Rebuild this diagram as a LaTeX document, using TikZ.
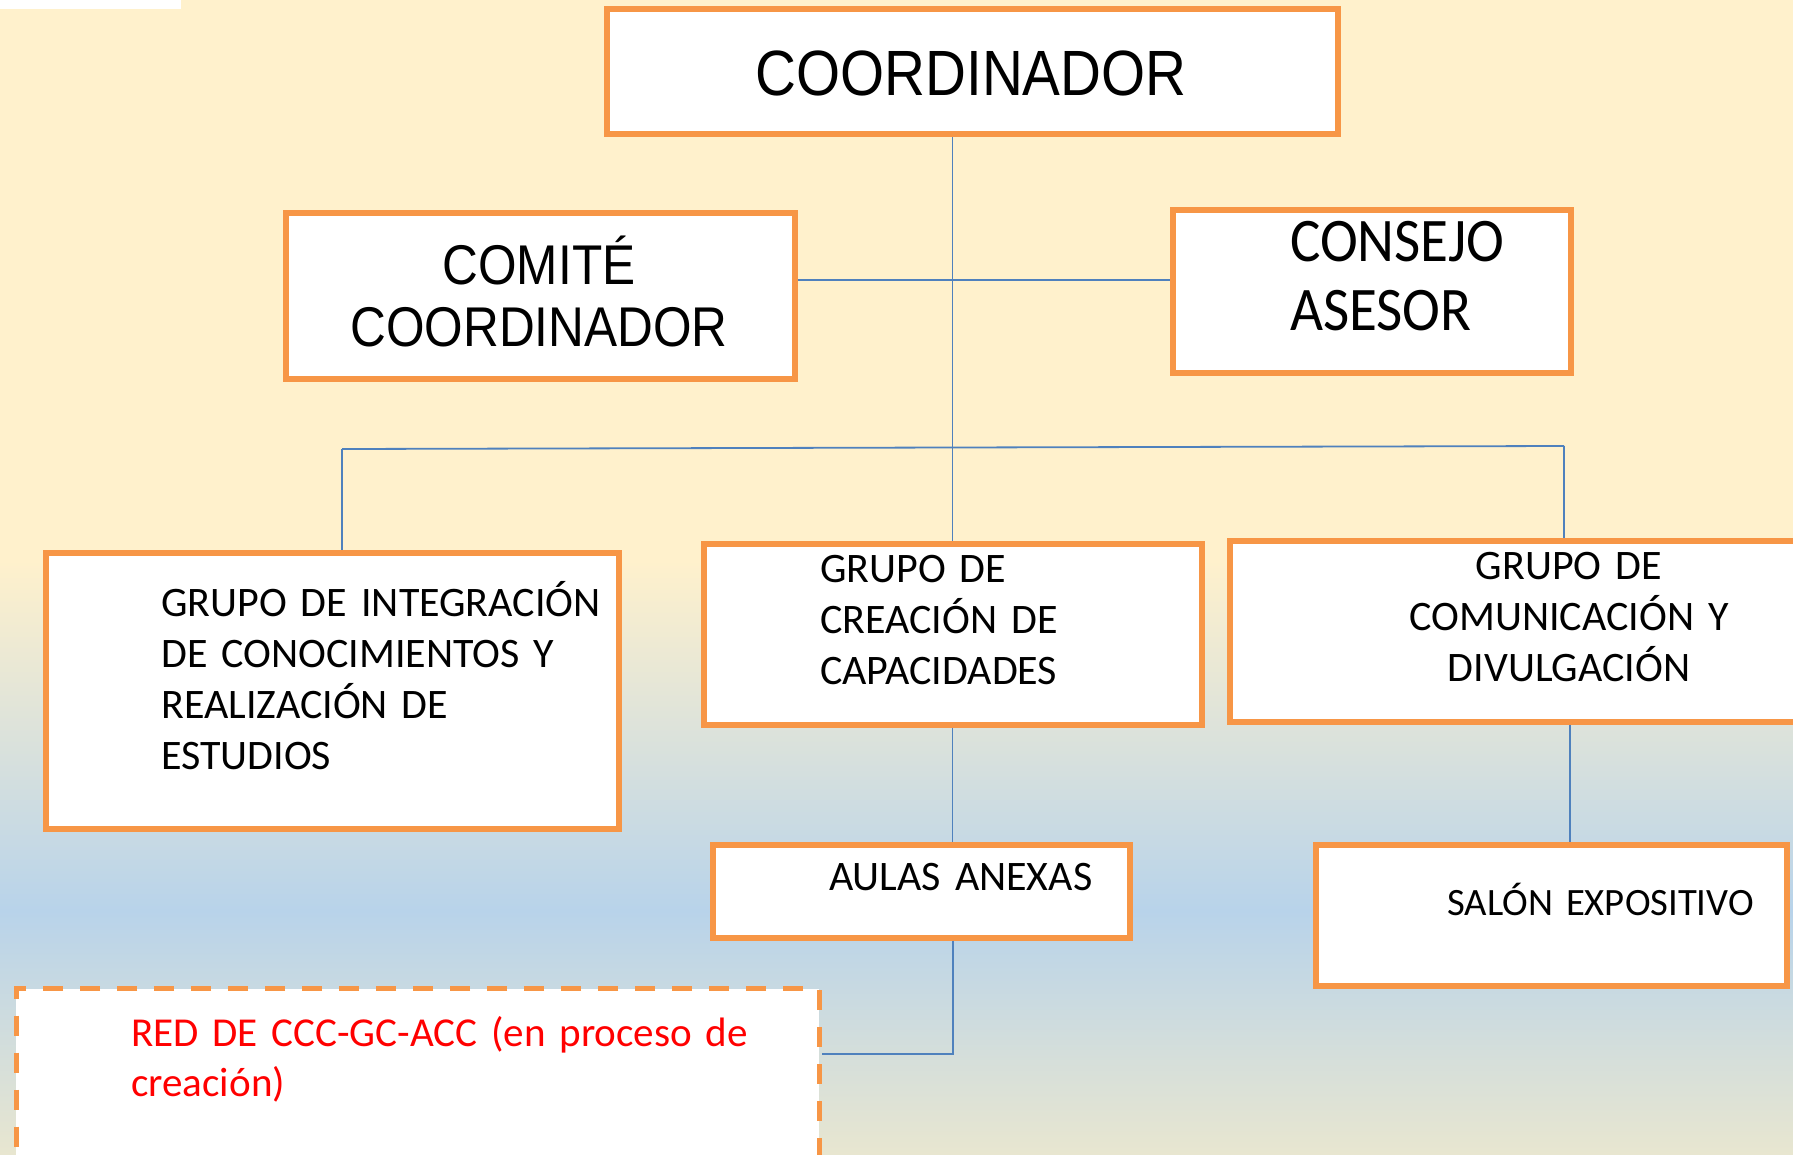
\documentclass[tikz,border=0pt]{standalone}
\usepackage{fontspec}
\setmainfont{Carlito}
\newfontfamily\arialtxt[FakeStretch=0.885]{Liberation Sans}
\newfontfamily\calibtxt[FakeStretch=0.92]{Carlito}
\usetikzlibrary{positioning}

\definecolor{boxorange}{HTML}{F79646}
\definecolor{linkblue}{HTML}{4F81BD}
\definecolor{creambg}{HTML}{FFF1CC}
\definecolor{bluebg}{HTML}{B8D3EA}
\definecolor{lowbg}{HTML}{E8E6D0}

\tikzset{
  orgbox/.style={draw=boxorange, line width=6pt, fill=white, inner sep=0pt},
  plannedbox/.style={orgbox, line width=5pt, dash pattern=on 20pt off 17pt},
  link/.style={draw=linkblue, line width=1.8pt},
  label/.style={inner sep=0pt, text width=#1, align=left},
  label/.default=600pt,
  big/.style={font=\arialtxt\fontsize{64}{70}\selectfont},
  mid/.style={font=\fontsize{42}{51}\selectfont}
}

\begin{document}
\begin{tikzpicture}[x=1pt, y=-1pt]
  \useasboundingbox (0,0) rectangle (1793,1154);
  % fondo
  \fill[creambg] (0,0) rectangle (1793,561);
  \shade[top color=creambg, bottom color=bluebg] (0,560) rectangle (1793,911);
  \shade[top color=bluebg, bottom color=lowbg] (0,910) rectangle (1793,1154);
  \fill[white] (0,0) rectangle (181,9);

  % cajas
  \node[orgbox, minimum width=731pt, minimum height=125pt] (coord) at (972,71) {};
  \node[orgbox, minimum width=509pt, minimum height=166pt] (comite) at (540,295.5) {};
  \node[orgbox, minimum width=398pt, minimum height=163pt] (consejo) at (1371.5,291) {};
  \node[orgbox, minimum width=573pt, minimum height=276pt] (integ) at (332,690.5) {};
  \node[orgbox, minimum width=498pt, minimum height=181pt] (creacion) at (952.5,634) {};
  \node[orgbox, minimum width=580pt, minimum height=181pt] (comunic) at (1519.5,631) {};
  \node[orgbox, minimum width=417pt, minimum height=93pt] (aulas) at (921,891) {};
  \node[orgbox, minimum width=471pt, minimum height=141pt] (salon) at (1551,915) {};
  \node[plannedbox, minimum width=803pt, minimum height=180pt] (red) at (417.5,1078.5) {};

  % textos
  \node[big, anchor=base] (coordtxt) at (971,95) {COORDINADOR};
  \node[label=500pt, align=center, anchor=base,
        font=\arialtxt\fontsize{56}{62}\selectfont] (comitetxt) at (539,284)
        {COMITÉ\\COORDINADOR};
  \node[label=350pt, anchor=base west,
        font=\calibtxt\fontsize{62}{69}\selectfont] (consejotxt) at (1290,261)
        {CONSEJO\\ASESOR};
  \node[label, mid, anchor=base west] (integtxt) at (161,616)
        {GRUPO DE INTEGRACIÓN\\DE CONOCIMIENTOS Y\\REALIZACIÓN DE\\ESTUDIOS};
  \node[label, mid, anchor=base west] (creaciontxt) at (820,582)
        {GRUPO DE\\CREACIÓN DE\\CAPACIDADES};
  \node[label=500pt, mid, align=center, anchor=base] (comunictxt) at (1569,579)
        {GRUPO DE\\COMUNICACIÓN Y\\DIVULGACIÓN};
  \node[label, mid, anchor=base west] (aulastxt) at (829,890) {AULAS ANEXAS};
  \node[label, anchor=base west, font=\fontsize{38.7}{46}\selectfont]
        (salontxt) at (1447,915) {SALÓN EXPOSITIVO};
  \node[label=720pt, anchor=base west, text=red,
        font=\fontsize{41.1}{50}\selectfont] (redtxt) at (131,1046)
        {RED DE CCC-GC-ACC (en proceso de\\creación)};

  % conectores
  \coordinate (hub) at (953,280);
  \coordinate (barL) at (342,449);
  \coordinate (barR) at (1564,446);
  \coordinate (drop) at (1570,0);
  \coordinate (knee) at (953,1054);

  \draw[link] (creacion.north) -- (creacion.north |- coord.south);
  \draw[link] (comite.east |- hub) -- (consejo.west |- hub);
  \draw[link] (barL) -- (barR);
  \draw[link] (barL) -- (barL |- integ.north);
  \draw[link] (barR) -- (barR |- comunic.north);
  \draw[link] (comunic.south -| drop) -- (salon.north -| drop);
  \draw[link] (creacion.south) -- (aulas.north -| creacion.south);
  \draw[link] (aulas.south -| knee) -- (knee) -- (red.east |- knee);
\end{tikzpicture}
\end{document}
